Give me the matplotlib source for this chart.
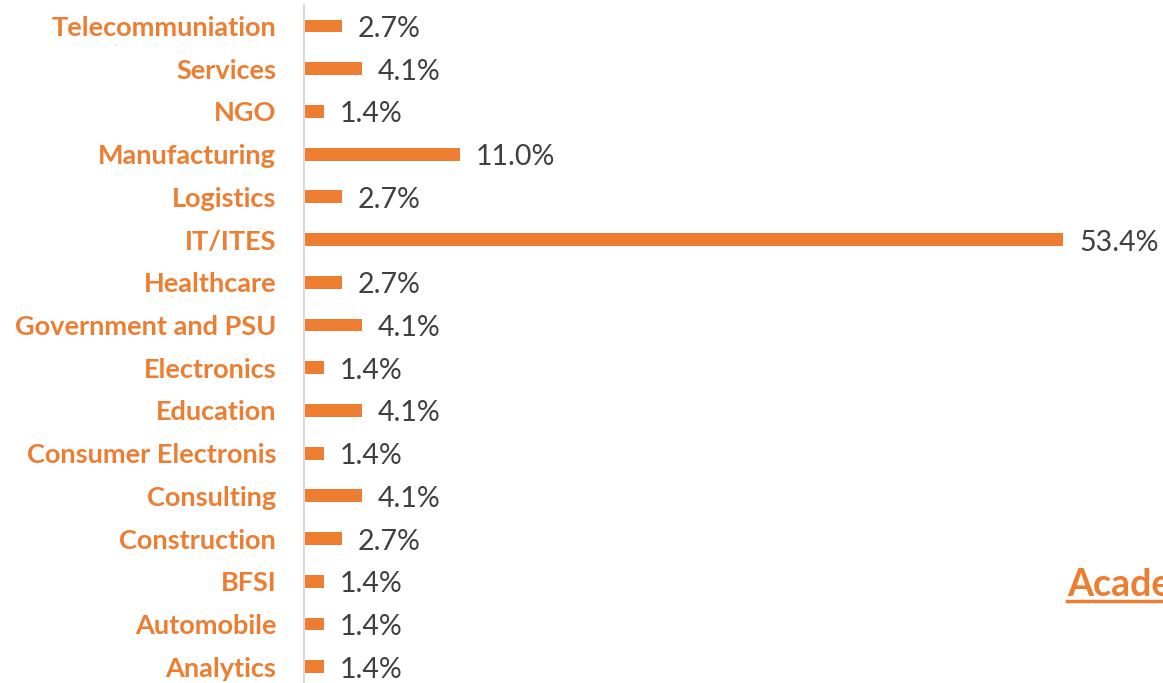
import matplotlib.pyplot as plt
from matplotlib.lines import Line2D

# sectors, bottom to top as drawn
sectors = ["Analytics", "Automobile", "BFSI", "Construction", "Consulting",
           "Consumer Electronis", "Education", "Electronics",
           "Government and PSU", "Healthcare", "IT/ITES", "Logistics",
           "Manufacturing", "NGO", "Services", "Telecommuniation"]
share = [1.4, 1.4, 1.4, 2.7, 4.1, 1.4, 4.1, 1.4, 4.1, 2.7, 53.4, 2.7, 11.0, 1.4, 4.1, 2.7]

orange = "#ED7D31"
plt.rcParams['font.family'] = ['Lato', 'DejaVu Sans']

fig = plt.figure(figsize=(11.63, 6.83), dpi=100)
ax = fig.add_axes([0.2614, -0.0075, 0.7386, 1.0008])

ax.barh(range(len(sectors)), share, height=0.3, color=orange)
for i, v in enumerate(share):
    ax.text(v + 1.1, i - 0.07, f"{v:.1f}%", va='center', ha='left',
            fontsize=20.5, color="#404040")

ax.set_ylim(-0.5, len(sectors) - 0.5)
ax.set_xlim(0, 60.4)
ax.set_yticks(range(len(sectors)))
ax.set_yticklabels(sectors, fontsize=19.5, fontweight='bold', color=orange)
ax.tick_params(axis='y', length=0, pad=20)
ax.set_xticks([])
for s in ['top', 'right', 'bottom']:
    ax.spines[s].set_visible(False)
ax.spines['left'].set_color("#D9D9D9")
ax.spines['left'].set_linewidth(1.5)

# cut-off underlined heading at right
fig.text(1067 / 1163, 1 - 596 / 683, "Academics", fontsize=27, fontweight='bold',
         color=orange, ha='left', va='baseline')
fig.add_artist(Line2D([1067 / 1163, 1.0], [1 - 601 / 683, 1 - 601 / 683],
                      color=orange, lw=2.5))

fig.savefig("out.png", dpi=100)
